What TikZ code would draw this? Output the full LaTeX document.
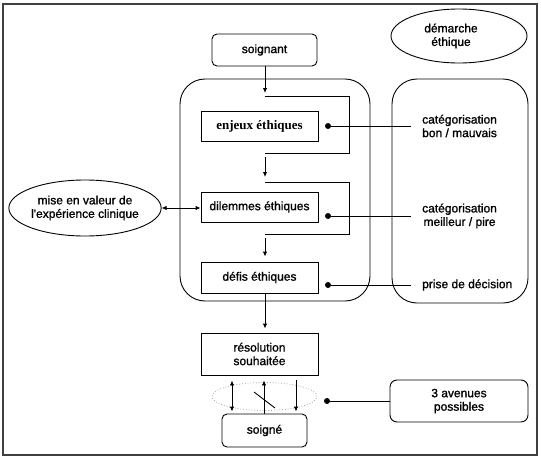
\documentclass[tikz,border=0pt]{standalone}
\usepackage{fontspec}
\newfontfamily\arialf[FakeBold=1.2]{Liberation Sans}
\newfontfamily\timesf{Liberation Serif}
\usetikzlibrary{arrows.meta,shapes.geometric}
\begin{document}
\begin{tikzpicture}[x=1pt,y=-1pt,
  txt/.style={font=\arialf\fontsize{12}{13.5}\selectfont, align=center, inner sep=0pt},
  rbox/.style={draw, rounded corners=5pt, line width=0.9pt},
  sbox/.style={draw, line width=0.9pt},
  grp/.style={draw, rounded corners=25pt, line width=0.9pt, inner sep=0pt},
  ln/.style={line width=0.9pt},
  arr/.style={-{Latex[length=5pt,width=4.5pt]}, line width=0.9pt},
  dbl/.style={{Latex[length=5pt,width=4.5pt]}-{Latex[length=5pt,width=4.5pt]}, line width=0.9pt},
  dot/.style={circle, fill, inner sep=0pt, minimum size=6pt},
  lbl/.style={txt, anchor=west, inner xsep=11pt},
]
\useasboundingbox (0,0) rectangle (541,458);
\draw[line width=1.8pt, black!75] (3,4) rectangle (537,455);

% groups
\node[grp, minimum width=190pt, minimum height=222pt] (grpL) at (275,190) {};
\node[grp, minimum width=136pt, minimum height=224pt] (grpR) at (460,191) {};

% ellipses
\node[ellipse, draw, line width=0.9pt, minimum width=136pt, minimum height=54pt, inner sep=0pt] (dem) at (459,36) {};
\node[txt] (demt) at (451,36) {démarche\\éthique};
\node[ellipse, draw, line width=0.9pt, minimum width=146pt, minimum height=56pt, inner sep=0pt, txt] (mev) at (85,208) {mise en valeur de\\l'expérience clinique};
\node[ellipse, draw=black!35, dotted, line width=0.8pt, minimum width=105pt, minimum height=28pt, inner sep=0pt] (av) at (264.5,396.5) {};

% boxes
\node[rbox, txt, minimum width=105pt, minimum height=32pt] (soi) at (264.5,50) {soignant};
\node[sbox, minimum width=117pt, minimum height=30pt, inner sep=0pt, font=\timesf\bfseries\fontsize{13}{15}\selectfont] (enj) at (259.5,126) {enjeux éthiques};
\node[sbox, txt, minimum width=117pt, minimum height=30pt] (dil) at (259.5,207) {dilemmes éthiques};
\node[sbox, txt, minimum width=117pt, minimum height=31pt] (def) at (259.5,277.5) {défis éthiques};
\node[sbox, txt, minimum width=117pt, minimum height=42pt] (res) at (259.5,354) {résolution\\souhaitée};
\node[rbox, txt, minimum width=85pt, minimum height=33pt] (sgn) at (264.5,430.5) {soigné};
\node[rbox, rounded corners=7pt, txt, minimum width=138pt, minimum height=42pt] (ave) at (459,401) {3 avenues\\possibles};

% right labels
\node[lbl] (t1) at (411,126) {catégorisation\\bon / mauvais};
\node[lbl] (t2) at (411,216) {catégorisation\\meilleur / pire};
\node[lbl] (t3) at (411,285) {prise de décision};

% dots
\node[dot] (d1) at (328,126) {};
\node[dot] (d2) at (328,216) {};
\node[dot] (d3) at (328,285) {};
\node[dot] (d4) at (327,401) {};
\draw[ln] (d1) -- (t1.west);
\draw[ln] (d2) -- (t2.west);
\draw[ln] (d3) -- (t3.west);
\draw[ln] (d4) -- (ave.west);

% main flow with brackets
\coordinate (b1a) at (265,96);
\coordinate (b1b) at (349,96);
\coordinate (b1c) at (349,153);
\coordinate (b1d) at (265,153);
\coordinate (a1s) at (265,157);
\coordinate (b2a) at (265,182);
\coordinate (b2b) at (349,182);
\coordinate (b2c) at (349,234);
\coordinate (b2d) at (265,234);
\coordinate (a2s) at (265,238);

\draw[arr, shorten >=3pt] (soi.south -| b1a) -- (b1a);
\draw[ln] (b1a) -- (b1b) -- (b1c) -- (b1d);
\draw[arr, shorten >=5pt] (a1s) -- (b2a);
\draw[ln] (b2a) -- (b2b) -- (b2c) -- (b2d);
\draw[arr, shorten >=5pt] (a2s) -- (def.north -| a2s);
\draw[arr, shorten >=4pt] (def.south -| b1a) -- (res.north -| b1a);

% left double arrow
\draw[dbl] (mev.east) -- (mev.east -| dil.west);

% three avenues
\coordinate (xl) at (232,0);
\coordinate (xm) at (264,0);
\coordinate (xr) at (296,0);
\draw[dbl, shorten <=5pt, shorten >=2pt] (res.south -| xl) -- (sgn.north -| xl);
\draw[arr, shorten >=5pt] (sgn.north -| xm) -- (res.south -| xm);
\draw[arr, shorten <=5pt, shorten >=2pt] (res.south -| xr) -- (sgn.north -| xr);
\coordinate (sl1) at (254,392);
\coordinate (sl2) at (275,408);
\draw[ln] (sl1) -- (sl2);
\end{tikzpicture}
\end{document}
